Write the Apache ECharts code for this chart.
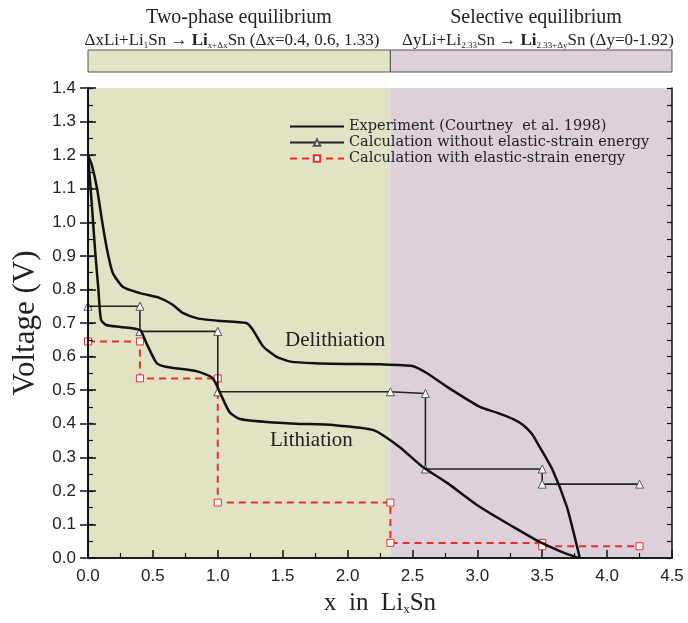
<!DOCTYPE html>
<html>
<head>
<meta charset="utf-8">
<script src="https://cdn.jsdelivr.net/npm/echarts@6/dist/echarts.min.js"></script>
<style>
html, body { margin: 0; padding: 0; background: #fff; }
#chart { width: 688px; height: 623px; }
</style>
</head>
<body>
<div id="chart"></div>
<script>
var chart = echarts.init(document.getElementById('chart'));

// experiment (Courtney et al. 1998)
var delithiation = [
    [0.0, 1.20], [0.03, 1.17], [0.07, 1.10], [0.11, 1.00], [0.146, 0.92], [0.19, 0.85],
    [0.27, 0.807], [0.4, 0.789], [0.55, 0.775], [0.65, 0.755], [0.73, 0.73], [0.85, 0.713],
    [1.0, 0.707], [1.22, 0.70], [1.27, 0.68], [1.35, 0.63], [1.45, 0.60], [1.56, 0.585],
    [1.75, 0.58], [2.0, 0.578], [2.25, 0.577], [2.5, 0.572], [2.61, 0.551], [2.77, 0.509],
    [3.02, 0.45], [3.15, 0.433], [3.28, 0.413], [3.35, 0.397], [3.42, 0.37], [3.48, 0.331],
    [3.58, 0.262], [3.69, 0.152], [3.75, 0.063], [3.79, 0.0]
];
var lithiation = [
    [0.0, 1.20], [0.03, 1.05], [0.054, 0.92], [0.08, 0.80], [0.1, 0.71], [0.14, 0.694],
    [0.25, 0.688], [0.4, 0.679], [0.45, 0.64], [0.53, 0.58], [0.61, 0.569], [0.84, 0.556],
    [0.96, 0.536], [1.02, 0.49], [1.09, 0.435], [1.17, 0.414], [1.38, 0.405], [1.6, 0.40],
    [1.89, 0.396], [2.2, 0.381], [2.4, 0.331], [2.58, 0.271], [2.77, 0.223], [3.02, 0.152],
    [3.28, 0.092], [3.48, 0.048], [3.64, 0.02], [3.78, 0.0]
];

// calculations
var noStrainX = [0, 0.4, 0.4, 1.0, 1.0, 2.33, 2.6, 2.6, 3.5, 3.5, 4.25];
var noStrainV = [0.75, 0.75, 0.675, 0.675, 0.495, 0.495, 0.49, 0.265, 0.265, 0.22, 0.22];
var strainX = [0, 0.4, 0.4, 1.0, 1.0, 2.33, 2.33, 3.5, 3.5, 4.25];
var strainV = [0.645, 0.645, 0.535, 0.535, 0.165, 0.165, 0.045, 0.045, 0.035, 0.035];

// two-phase / selective equilibrium regions
var phaseBounds = [0, 2.33, 4.5];
var phaseColors = ['#e2e2c4', '#dcd0da'];

var xTicks = ['0.0', '0.5', '1.0', '1.5', '2.0', '2.5', '3.0', '3.5', '4.0', '4.5'];

function pairs(xs, ys) {
    return xs.map(function (x, i) { return [x, ys[i]]; });
}

var serif = '"Liberation Serif", "DejaVu Serif", serif';
var sans = '"Liberation Sans", Arial, sans-serif';

var regionAreas = [];
for (var i = 0; i < phaseColors.length; i++) {
    regionAreas.push([
        { xAxis: phaseBounds[i], itemStyle: { color: phaseColors[i] } },
        { xAxis: phaseBounds[i + 1] }
    ]);
}
var headerAreas = regionAreas.map(function (a) {
    return [
        { xAxis: a[0].xAxis, itemStyle: { color: a[0].itemStyle.color, borderColor: '#555', borderWidth: 1 } },
        { xAxis: a[1].xAxis }
    ];
});

var EXP = 'Experiment (Courtney  et al. 1998)';
var NOS = 'Calculation without elastic-strain energy';
var STR = 'Calculation with elastic-strain energy';

var tickLine = { color: '#111', width: 1.5 };
var minorLine = { color: '#111', width: 1.2 };

var headRich = {
    n: { fontFamily: serif, fontSize: 17, fill: '#222' },
    b: { fontFamily: serif, fontSize: 17, fontWeight: 'bold', fill: '#222' },
    s: { fontFamily: serif, fontSize: 9, fill: '#222', verticalAlign: 'bottom', padding: [9, 0, 0, 0] }
};

// y axis with only inner ticks; minor ticks from a second, unlabeled axis
function yTickAxis(pos, step, len, extra) {
    var ax = {
        gridIndex: 0, type: 'value', min: 0, max: 1.4, interval: step, position: pos, z: 10,
        axisLine: { show: true, lineStyle: tickLine },
        axisTick: { show: true, inside: true, length: len, lineStyle: len > 6 ? tickLine : minorLine },
        axisLabel: { show: false }, splitLine: { show: false }
    };
    return Object.assign(ax, extra || {});
}

var option = {
    animation: false,
    backgroundColor: '#fff',
    grid: [
        { left: 88, right: 16, top: 88, bottom: 65 },
        { left: 88, right: 16, top: 50, height: 22 }
    ],
    xAxis: [{
        gridIndex: 0, type: 'value', min: 0, max: 4.5, interval: 0.5, z: 10,
        axisLine: { lineStyle: tickLine },
        axisTick: { inside: true, length: 8, lineStyle: tickLine },
        minorTick: { show: true, splitNumber: 2, length: 5, lineStyle: minorLine },
        splitLine: { show: false },
        axisLabel: {
            fontFamily: sans, fontSize: 17, color: '#222', margin: 10,
            formatter: function (v) { return xTicks[Math.round(v / 0.5)]; }
        },
        name: '{n|x  in  Li}{s|x}{n|Sn}',
        nameLocation: 'middle', nameGap: 33,
        nameTextStyle: {
            rich: {
                n: { fontFamily: serif, fontSize: 25, color: '#222' },
                s: { fontFamily: serif, fontSize: 13, color: '#222', verticalAlign: 'bottom', padding: [12, 0, 0, 0] }
            }
        }
    }, {
        gridIndex: 0, type: 'value', min: 0, max: 4.5, position: 'top', z: 10,
        axisLine: { show: true, lineStyle: tickLine },
        axisTick: { show: false }, axisLabel: { show: false }, splitLine: { show: false }
    }, {
        gridIndex: 1, type: 'value', min: 0, max: 4.5, show: false
    }],
    yAxis: [
        yTickAxis('left', 0.1, 8, {
            axisLabel: {
                show: true, fontFamily: sans, fontSize: 17, color: '#222', margin: 12,
                formatter: function (v) { return v.toFixed(1); }
            },
            name: 'Voltage (V)', nameLocation: 'middle', nameGap: 38,
            nameTextStyle: { fontFamily: serif, fontSize: 31, color: '#222' }
        }),
        yTickAxis('right', 0.1, 8),
        { gridIndex: 1, type: 'value', min: 0, max: 1, show: false },
        yTickAxis('left', 0.05, 5),
        yTickAxis('right', 0.05, 5)
    ],
    legend: {
        orient: 'vertical', left: 289, top: 119, itemGap: 1, padding: 0,
        itemWidth: 54, itemHeight: 8,
        data: [{ name: EXP, itemStyle: { opacity: 0 } }, NOS, STR],
        textStyle: { fontFamily: '"DejaVu Serif", serif', fontSize: 14.5, color: '#222' }
    },
    graphic: [
        { type: 'text', x: 239, y: 8, style: { text: 'Two-phase equilibrium', font: '20px ' + serif, fill: '#222', align: 'center' } },
        { type: 'text', x: 232, y: 32, style: {
            text: '{n|ΔxLi+Li}{s|1}{n|Sn }{b|→ Li}{s|x+Δx}{n|Sn (Δx=0.4, 0.6, 1.33)}',
            align: 'center', rich: headRich
        } },
        { type: 'text', x: 536, y: 8, style: { text: 'Selective equilibrium', font: '20px ' + serif, fill: '#222', align: 'center' } },
        { type: 'text', x: 538, y: 32, style: {
            text: '{n|ΔyLi+Li}{s|2.33}{n|Sn }{b|→ Li}{s|2.33+Δy}{n|Sn (Δy=0-1.92)}',
            align: 'center', rich: headRich
        } },
        { type: 'text', left: 285, top: 330, z: 20, style: { text: 'Delithiation', font: '21px ' + serif, fill: '#222' } },
        { type: 'text', left: 270, top: 430, z: 20, style: { text: 'Lithiation', font: '21px ' + serif, fill: '#222' } }
    ],
    series: [{
        name: 'regions', type: 'line', xAxisIndex: 0, yAxisIndex: 0, data: [], z: 0,
        markArea: { silent: true, data: regionAreas }
    }, {
        name: 'header', type: 'line', xAxisIndex: 2, yAxisIndex: 2, data: [],
        markArea: { silent: true, data: headerAreas }
    }, {
        name: EXP, type: 'line', xAxisIndex: 0, yAxisIndex: 0, data: delithiation,
        smooth: 0.2, symbol: 'none', z: 5,
        itemStyle: { color: '#111' }, lineStyle: { color: '#111', width: 2.5 }
    }, {
        name: EXP, type: 'line', xAxisIndex: 0, yAxisIndex: 0, data: lithiation,
        smooth: 0.2, symbol: 'none', z: 5,
        itemStyle: { color: '#111' }, lineStyle: { color: '#111', width: 2.5 }
    }, {
        name: NOS, type: 'line', xAxisIndex: 0, yAxisIndex: 0, data: pairs(noStrainX, noStrainV),
        symbol: 'triangle', symbolSize: 8, showAllSymbol: true, z: 4,
        itemStyle: { color: '#fff', borderColor: '#555', borderWidth: 1 },
        lineStyle: { color: '#222', width: 1.6 }
    }, {
        name: STR, type: 'line', xAxisIndex: 0, yAxisIndex: 0, data: pairs(strainX, strainV),
        symbol: 'rect', symbolSize: 7, showAllSymbol: true, z: 3,
        itemStyle: { color: '#fff', borderColor: '#e8302a', borderWidth: 1 },
        lineStyle: { color: '#e8302a', width: 2, type: [7, 5] }
    }]
};
chart.setOption(option);
</script>
</body>
</html>
